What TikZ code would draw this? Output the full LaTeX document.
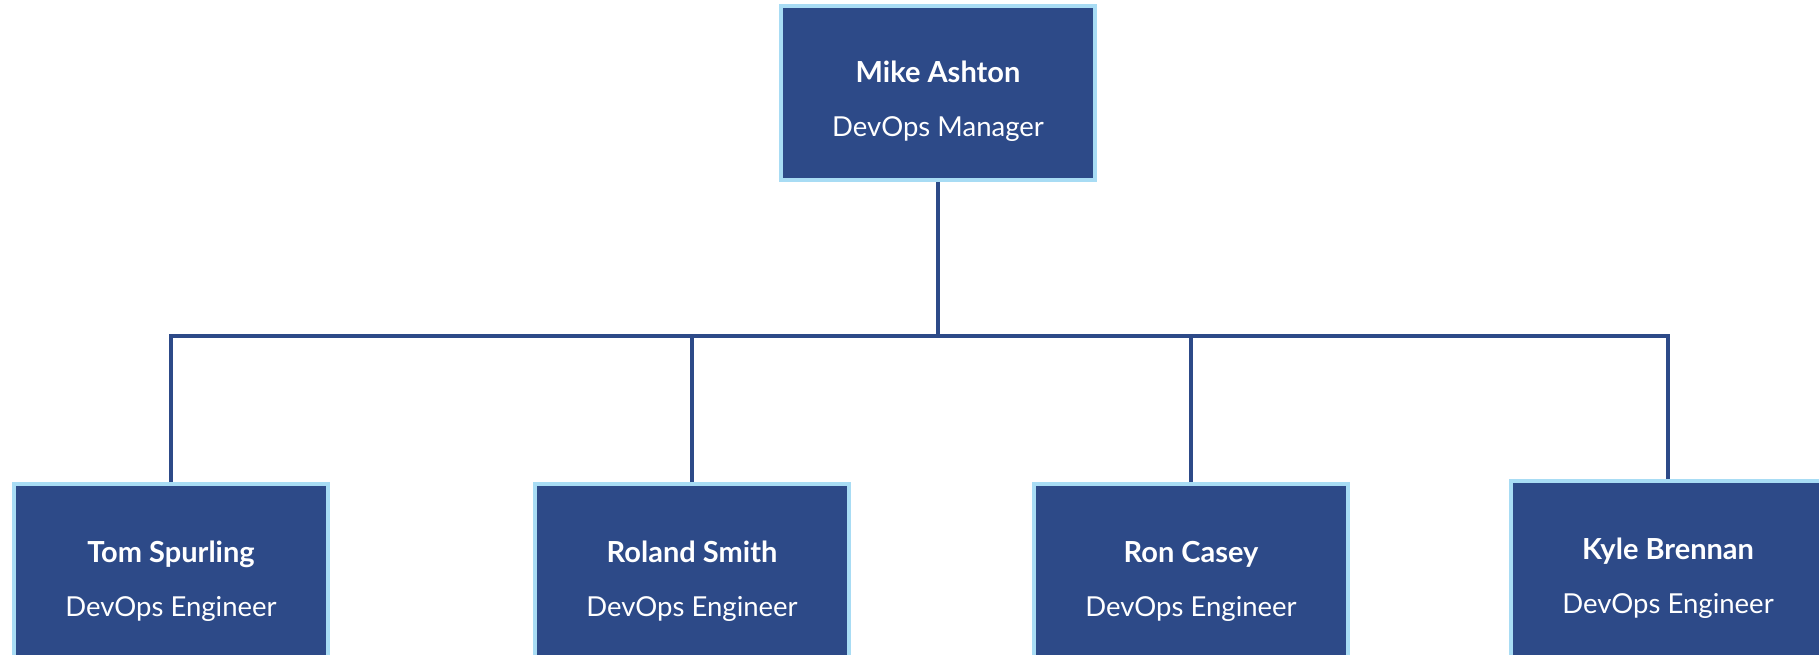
\documentclass[tikz,border=0pt]{standalone}
\usepackage{fontspec}
\setmainfont{Lato}
\usepackage{xcolor}
\definecolor{boxblue}{HTML}{2D4A88}
\definecolor{edgeblue}{HTML}{A8DCF4}
\tikzset{
  person/.style={draw=edgeblue, line width=4pt, fill=boxblue, text=white,
    minimum width=314pt, align=center, font=\fontsize{27.5}{54}\selectfont},
  link/.style={draw=boxblue, line width=3.5pt}
}
\newcommand{\who}[2]{{\fontsize{29}{54}\selectfont\bfseries #1}\\#2}

\begin{document}
\begin{tikzpicture}[x=1pt,y=-1pt]
		\useasboundingbox (0,0) rectangle (1819,655);
		\clip (0,0) rectangle (1819,655);
		% MANAGER
		\node [person, minimum height=174pt, text height=93pt] (mike) at (938,93) {\who{Mike Ashton}{DevOps Manager}};
		% ENGINEERS
		\node [person, minimum height=194pt] (tom) at (171,581) {\who{Tom Spurling}{DevOps Engineer}};
		\node [person, minimum height=194pt] (roland) at (692,581) {\who{Roland Smith}{DevOps Engineer}};
		\node [person, minimum height=194pt] (ron) at (1191,581) {\who{Ron Casey}{DevOps Engineer}};
		\node [person, minimum height=194pt] (kyle) at (1668,578) {\who{Kyle Brennan}{DevOps Engineer}};
		% BUS
		\coordinate (bus) at (938,336);
		\draw [link] (mike.south) -- (bus);
		\foreach \n in {tom,roland,ron,kyle}
			\draw [link] (\n.north) |- (bus);
\end{tikzpicture}
\end{document}
